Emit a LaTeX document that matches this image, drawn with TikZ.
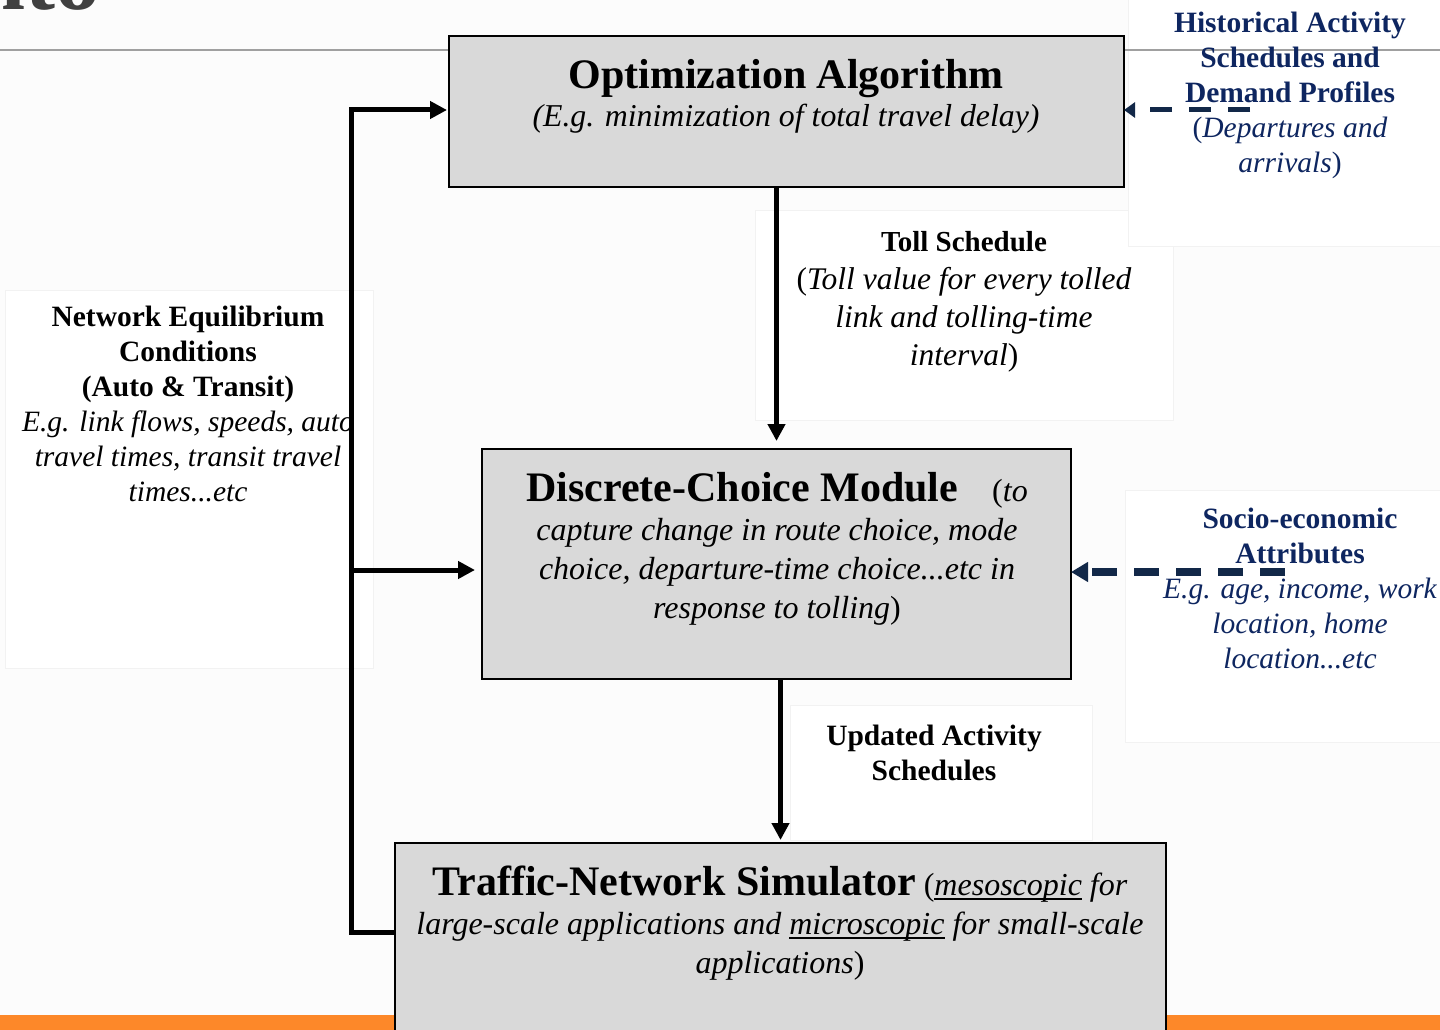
\documentclass[tikz,border=0pt]{standalone}
\usepackage{fontspec}
\setmainfont{Liberation Serif}
\usetikzlibrary{arrows.meta}

\definecolor{bgc}{RGB}{252,252,252}
\definecolor{boxfill}{RGB}{217,217,217}
\definecolor{navy}{RGB}{14,38,96}
\definecolor{dashnavy}{RGB}{18,40,72}
\definecolor{barorange}{RGB}{253,136,41}
\definecolor{rulegray}{RGB}{160,160,160}
\definecolor{titlegray}{RGB}{64,64,64}

% thick underline placed a little below the baseline
\newcommand\thickul[1]{\setbox0\hbox{#1}\rlap{\rule[-5pt]{\wd0}{2pt}}\box0\relax}

\begin{document}
\begin{tikzpicture}[x=1pt,y=-1pt,
  stage/.style={draw=black, line width=2.5pt, fill=boxfill, inner sep=0pt, outer sep=0pt},
  panel/.style={fill=white, draw=black!5, line width=0.8pt},
  feed/.style={line width=5pt, line join=miter, -{Triangle[length=17pt,width=17pt]}},
  dashA/.style={dashnavy, line width=5pt, dash pattern=on 22pt off 17pt, -{Triangle[length=11pt,width=15pt]}},
  dashB/.style={dashnavy, line width=7.5pt, dash pattern=on 25pt off 17pt, -{Triangle[length=17pt,width=19pt]}},
  % multi-line labels: the base anchor sits on the last line
  lbl/.style={align=center, inner sep=0pt, anchor=base},
  big/.style={font=\fontsize{42}{48}\selectfont\bfseries},
]
\useasboundingbox (0,0) rectangle (1440,1030);
\clip (0,0) rectangle (1440,1030);
\fill[bgc] (0,0) rectangle (1440,1030);

% slide title, mostly outside the visible area
\node[anchor=base west, inner sep=0pt, text=titlegray,
      font=\fontsize{90}{100}\selectfont\bfseries] (slidetitle) at (-25,10) {nto};

% faint label panels
\fill[panel] (5,290) rectangle (373,668);
\fill[panel] (755,210) rectangle (1173,420);
\fill[panel] (1128,-5) rectangle (1445,246);
\fill[panel] (1125,490) rectangle (1445,742);
\fill[panel] (790,705) rectangle (1092,840);

% header rule and footer bar
\draw[rulegray, line width=1.5pt] (0,50) -- (1440,50);
\fill[barorange] (0,1015) rectangle (1440,1030);

% stages
\node[stage, minimum width=675pt, minimum height=151pt] (opt) at (786.5,111.5) {};
\node[stage, minimum width=589pt, minimum height=230pt] (dcm) at (776.5,564) {};
\node[stage, minimum width=771pt, minimum height=217pt] (sim) at (780.5,951.5) {};

% stage texts
\node[lbl, big] (optT) at (786,89) {Optimization Algorithm};
\node[lbl, font=\fontsize{31.8}{38}\selectfont\itshape] (optS) at (786,127)
  {(E.g. minimization of total travel delay)};

\node[lbl, font=\fontsize{32}{39}\selectfont] (dcmT) at (777,618)
  {{\fontsize{42}{48}\selectfont\bfseries Discrete-Choice Module}\hspace{34pt}(\textit{to}\\
   \textit{capture change in route choice, mode}\\
   \textit{choice, departure-time choice...etc in}\\
   \textit{response to tolling})};

\node[lbl, font=\fontsize{32}{39}\selectfont] (simT) at (780,973)
  {{\fontsize{42}{48}\selectfont\bfseries Traffic-Network Simulator} (\textit{\thickul{mesoscopic} for}\\
   \textit{large-scale applications and \thickul{microscopic} for small-scale}\\
   \textit{applications})};

% connector labels
\node[lbl, font=\fontsize{31.5}{38}\selectfont] (tollL) at (964,365)
  {{\fontsize{29}{38}\selectfont\bfseries Toll Schedule}\\
   (\textit{Toll value for every tolled}\\
   \textit{link and tolling-time}\\
   \textit{interval})};

\node[lbl, font=\fontsize{29.5}{35}\selectfont] (updL) at (934,780)
  {\bfseries Updated Activity\\ \bfseries Schedules};

\node[lbl, font=\fontsize{29.5}{35}\selectfont] (eqL) at (188,501)
  {\bfseries Network Equilibrium\\ \bfseries Conditions\\ \bfseries (Auto \& Transit)\\
   \itshape E.g. link flows, speeds, auto\\
   \itshape travel times, transit travel\\
   \itshape times...etc};

\node[lbl, text=navy, font=\fontsize{29.5}{35}\selectfont] (histL) at (1290,172)
  {\bfseries Historical Activity\\ \bfseries Schedules and\\ \bfseries Demand Profiles\\
   (\textit{Departures and}\\ \textit{arrivals})};

\node[lbl, text=navy, font=\fontsize{29.5}{35}\selectfont] (socL) at (1300,668)
  {\bfseries Socio-economic\\ \bfseries Attributes\\
   \itshape E.g. age, income, work\\
   \itshape location, home\\
   \itshape location...etc};

% feedback bus on the left
\coordinate (busLow) at (351,932);
\coordinate (busTop) at (351,110);
\coordinate (busMid) at (351,570);
\coordinate (histTail) at (1250,110);
\coordinate (socTail) at (1285,572);

% main flow
\draw[feed, shorten >=8pt] (opt.south -| dcm.north) -- (dcm.north);
\draw[feed, shorten >=3pt] (dcm.south -| sim.north) -- (sim.north);
\draw[feed, shorten >=2pt] (sim.west |- busLow) -- (busLow) -- (busTop) -- (opt.west |- busTop);
\draw[feed, shorten >=7pt] (busMid) -- (dcm.west |- busMid);

% external inputs
\draw[dashA] (histTail) -- (opt.east |- histTail);
\draw[dashB] (socTail) -- (dcm.east |- socTail);
\end{tikzpicture}
\end{document}
